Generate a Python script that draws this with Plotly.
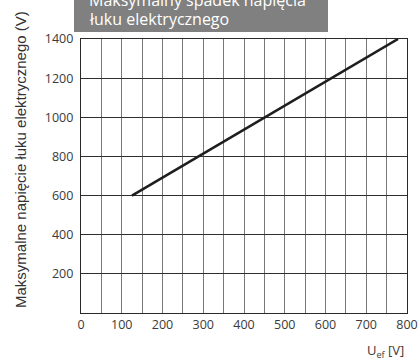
import plotly.graph_objects as go

# Data
u_ef = [125, 778]
max_voltage = [600, 1400]
x_ticks = [0, 100, 200, 300, 400, 500, 600, 700, 800]
y_ticks = [200, 400, 600, 800, 1000, 1200, 1400]
title_lines = ["Maksymalny spadek napięcia", "łuku elektrycznego"]
y_title = "Maksymalne napięcie łuku elektrycznego (V)"
x_title = "U<sub>ef</sub> [V]"

W, H = 420, 363
L, R, T, B = 81, 13, 39, 50
pw, ph = W - L - R, H - T - B

def px_x(x):
    return (x - L) / pw

def px_y(y):
    return (H - B - y) / ph

fig = go.Figure()
fig.add_trace(go.Scatter(x=u_ef, y=max_voltage, mode="lines",
                         line=dict(color="#1e1e1e", width=2.6),
                         showlegend=False, hoverinfo="skip"))

tickfont = dict(family="Open Sans", size=12.5, color="#3a3a3a")
fig.update_xaxes(range=[0, 800], tickvals=x_ticks, automargin=False,
                 showgrid=True, gridcolor="#777777", gridwidth=1,
                 minor=dict(dtick=50, showgrid=True, gridcolor="#777777", gridwidth=1),
                 showline=True, linecolor="#2a2a2a", linewidth=1.2, mirror=True,
                 zeroline=False, ticks="", tickfont=tickfont)
fig.update_yaxes(range=[0, 1400], tickvals=y_ticks, automargin=False,
                 showgrid=True, gridcolor="#2e2e2e", gridwidth=1,
                 showline=True, linecolor="#2a2a2a", linewidth=1.2, mirror=True,
                 zeroline=False, ticks="", tickfont=tickfont, ticklabelstandoff=4)

fig.add_shape(type="rect", xref="paper", yref="paper",
              x0=px_x(74), x1=px_x(328), y0=px_y(32), y1=px_y(-5),
              fillcolor="#808080", line=dict(width=0), layer="above")
fig.add_annotation(text=title_lines[0], xref="paper", yref="paper",
                   x=px_x(87), y=px_y(0), xanchor="left", yanchor="middle",
                   showarrow=False, font=dict(family="Open Sans", size=16, color="white"))
fig.add_annotation(text=title_lines[1], xref="paper", yref="paper",
                   x=px_x(87), y=px_y(19), xanchor="left", yanchor="middle",
                   showarrow=False, font=dict(family="Open Sans", size=16, color="white"))
fig.add_annotation(text=y_title, xref="paper", yref="paper",
                   x=px_x(20), y=px_y(160), xanchor="center", yanchor="middle",
                   textangle=-90, showarrow=False,
                   font=dict(family="Liberation Sans", size=15, color="#333333"))
fig.add_annotation(text=x_title, xref="paper", yref="paper",
                   x=px_x(406), y=px_y(351), xanchor="right", yanchor="middle",
                   showarrow=False, font=dict(family="Open Sans", size=13, color="#3a3a3a"))

fig.update_layout(width=W, height=H, margin=dict(l=L, r=R, t=T, b=B),
                  paper_bgcolor="white", plot_bgcolor="white")
fig.write_html("out.html", config={"displayModeBar": False},
               post_script="document.body.style.margin='0';document.body.style.overflow='hidden';")
